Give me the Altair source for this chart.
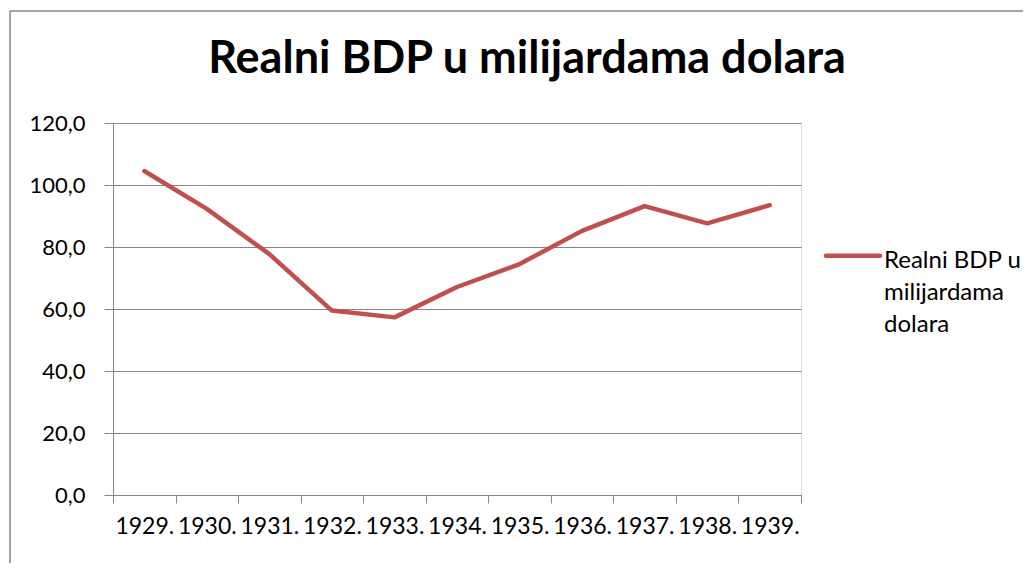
import altair as alt
import pandas as pd

years = ["1929.", "1930.", "1931.", "1932.", "1933.", "1934.",
         "1935.", "1936.", "1937.", "1938.", "1939."]
gdp = [104.5, 92.3, 77.7, 59.5, 57.3, 67.1, 74.5, 85.2, 93.2, 87.6, 93.5]
series_name = "Realni BDP u milijardama dolara"
legend_lines = ["Realni BDP u", "milijardama", "dolara"]
y_ticks = [0, 20, 40, 60, 80, 100, 120]

FONT = "Lato"
RED = "#C0504D"
GREY = "#868686"

df = pd.DataFrame({"year": years, "value": gdp, "series": series_name})
leg_df = pd.DataFrame({"series": [series_name], "label": ["\n".join(legend_lines)]})

W, H = 688, 372

line = alt.Chart(df).mark_line(
    color=RED, strokeWidth=4.5, strokeCap="round", strokeJoin="round"
).encode(
    x=alt.X("year:N", sort=years, bandPosition=0.5,
            scale=alt.Scale(type="band", paddingInner=0, paddingOuter=0),
            axis=alt.Axis(title=None, labelAngle=0, tickBand="extent",
                          ticks=True, tickSize=8, tickColor=GREY,
                          domainColor=GREY, grid=False, labelPadding=12,
                          labelFont=FONT, labelFontSize=23, labelColor="black")),
    y=alt.Y("value:Q", scale=alt.Scale(domain=[0, 120], nice=False),
            axis=alt.Axis(title=None, values=y_ticks, tickSize=9, tickColor=GREY,
                          domainColor=GREY, gridColor=GREY, gridWidth=1,
                          labelExpr="replace(format(datum.value, '.1f'), '.', ',')",
                          labelPadding=19, labelFont=FONT, labelFontSize=22,
                          labelColor="black")),
)

leg_symbol = alt.Chart(leg_df).mark_rule(
    color=RED, strokeWidth=4.5, strokeCap="round"
).encode(
    x=alt.value(713), x2=alt.value(767), y=alt.value(132.7)
)

leg_text = alt.Chart(leg_df).mark_text(
    align="left", baseline="top", font=FONT, fontSize=24, lineBreak="\n",
    lineHeight=32, color="black"
).encode(
    x=alt.value(771), y=alt.value(126), text="label:N"
)

title_text = alt.Chart(leg_df).mark_text(
    align="center", baseline="alphabetic", font=FONT, fontSize=45,
    fontWeight="bold", color="black"
).encode(
    x=alt.value(414), y=alt.value(-50), text="series:N"
)

border_left = alt.Chart(leg_df).mark_rule(color=GREY, strokeWidth=1.5).encode(
    x=alt.value(-103), y=alt.value(-112), y2=alt.value(480)
)
border_top = alt.Chart(leg_df).mark_rule(color=GREY, strokeWidth=1.5).encode(
    x=alt.value(-103), x2=alt.value(930), y=alt.value(-112)
)

chart = alt.layer(border_left, border_top, title_text, line, leg_symbol, leg_text).properties(
    width=W, height=H,
    autosize=alt.AutoSizeParams(type="none"),
    padding={"left": 105, "top": 115, "right": 222, "bottom": 68},
).configure_view(stroke=None).configure(background="white")

chart.save("out.html", embed_options={"renderer": "svg", "actions": False})
